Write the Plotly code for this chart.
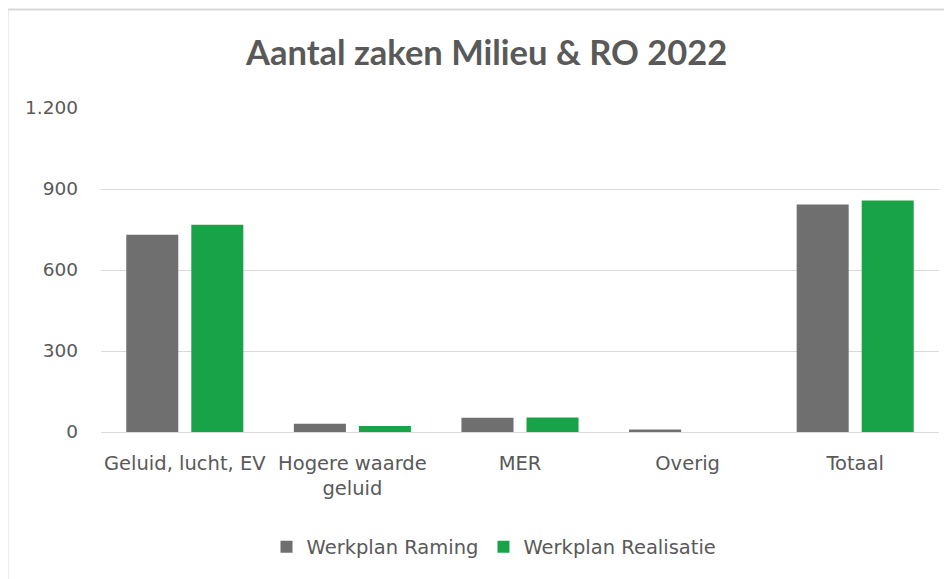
import plotly.graph_objects as go

categories = ["Geluid, lucht, EV", "Hogere waarde<br>geluid", "MER", "Overig", "Totaal"]
raming = [731, 31, 53, 9, 843]
realisatie = [768, 22, 54, 0, 857]
series_names = ["Werkplan Raming", "Werkplan Realisatie"]
tick_vals = [0, 300, 600, 900, 1200]
tick_text = ["0", "300", "600", "900", "1.200"]
title_text = "Aantal zaken Milieu & RO 2022"

FONT = "DejaVu Sans"
TFONT = "Lato"
TXT = "#595959"

fig = go.Figure()
fig.add_trace(go.Bar(x=categories, y=raming, name=series_names[0],
                     marker=dict(color="#6f6f6f", line=dict(width=0))))
fig.add_trace(go.Bar(x=categories, y=realisatie, name=series_names[1],
                     marker=dict(color="#19a349", line=dict(width=0))))

# page body has an 8px margin, so work in screenshot coords minus 8
OFF = 8
W, H = 952 - OFF, 579 - OFF
L, R, T, B = 101 - OFF, 939 - OFF, 108 - OFF, 432 - OFF
pw, ph = R - L, B - T

def px(x):
    return (x - OFF - L) / pw

def py(y):
    return (B - (y - OFF)) / ph

fig.update_layout(
    width=W, height=H,
    margin=dict(l=L, r=W - R, t=T, b=H - B),
    paper_bgcolor="white", plot_bgcolor="white",
    barmode="group", bargap=0.224, bargroupgap=0.2,
    font=dict(family=FONT, color=TXT, size=16),
    showlegend=True,
    legend=dict(orientation="h", x=px(494), xanchor="center", y=py(547), yanchor="middle",
                font=dict(size=19.5, color=TXT, family=FONT), traceorder="normal"),
    xaxis=dict(showgrid=False, showline=False, ticks="", tickfont=dict(size=19.5, color=TXT, family=FONT),
               range=[-0.5, 4.5], ticklabelstandoff=17),
    yaxis=dict(range=[0, 1200], tickvals=tick_vals, ticktext=tick_text, showgrid=True,
               gridcolor="#d9d9d9", gridwidth=1, zeroline=True, zerolinecolor="#d9d9d9",
               zerolinewidth=1, showline=False, ticks="", tickfont=dict(size=18.5, color=TXT, family=FONT),
               ticklabelstandoff=22),
    annotations=[dict(text="<b>" + title_text + "</b>", x=px(486), y=py(52), xref="paper", yref="paper",
                      xanchor="center", yanchor="middle", showarrow=False,
                      font=dict(size=34.5, color=TXT, family=TFONT))],
    shapes=[
        dict(type="line", xref="paper", yref="paper", x0=px(7.5), x1=px(990), y0=py(9.5), y1=py(9.5),
             line=dict(color="#d9d9d9", width=2)),
        dict(type="line", xref="paper", yref="paper", x0=px(7.5), x1=px(7.5), y0=py(9.5), y1=py(620),
             line=dict(color="#d9d9d9", width=2)),
    ],
)

fig.write_html("out.html")
